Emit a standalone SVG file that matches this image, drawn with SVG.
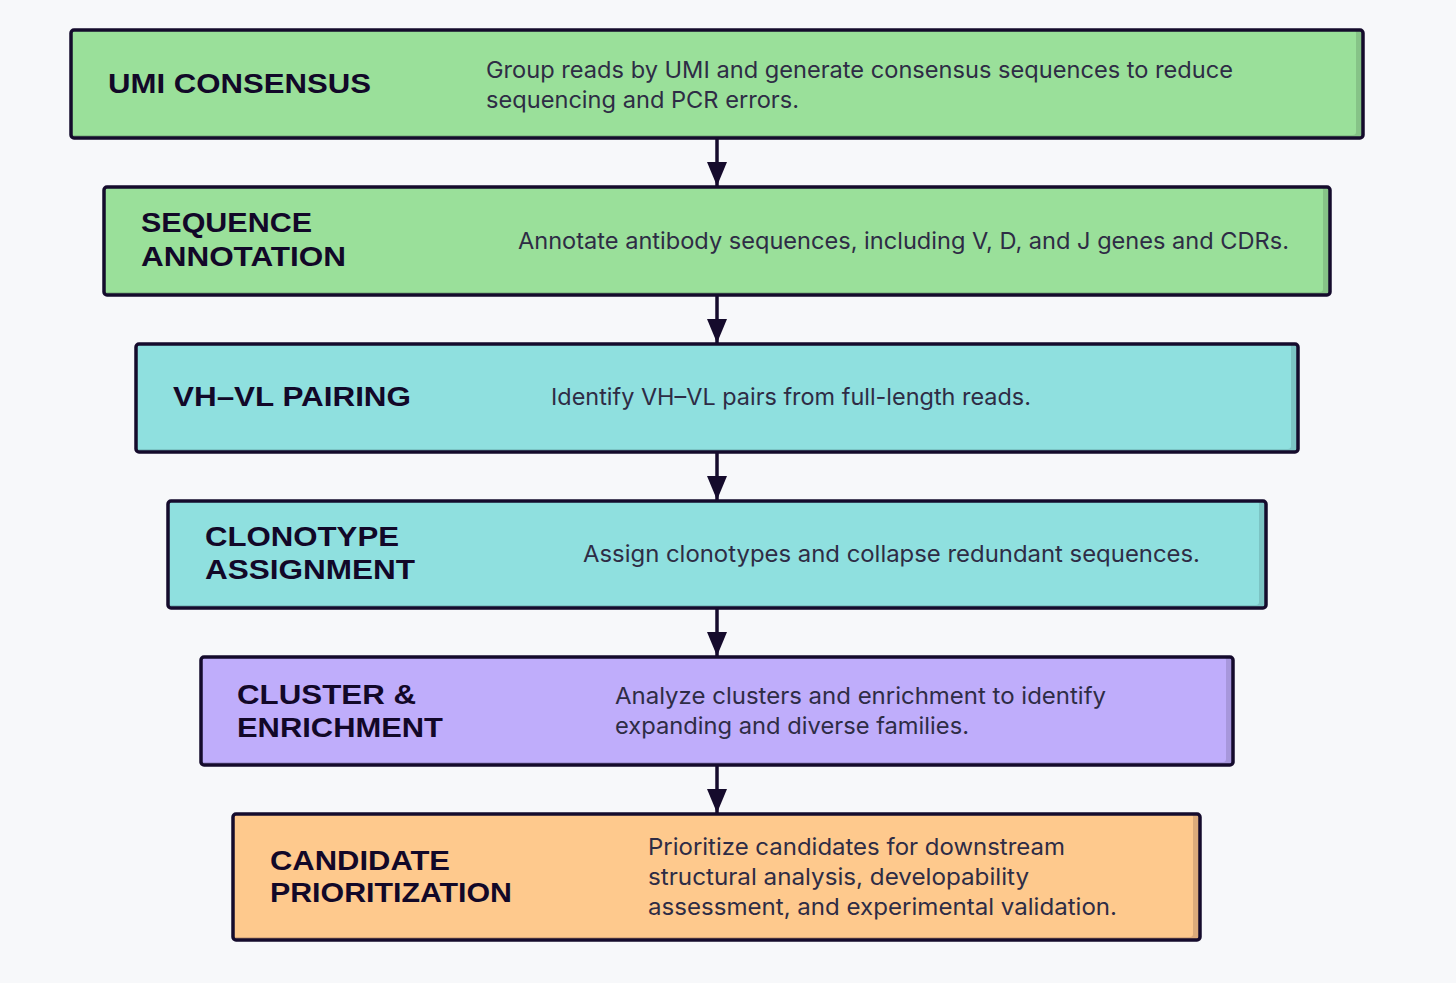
<svg xmlns="http://www.w3.org/2000/svg" width="1456" height="983" viewBox="0 0 1456 983">
<style>
.frame{fill:none;stroke:#150b2c;stroke-width:3.5}
.t{font-family:"Liberation Sans",Arial,sans-serif;font-weight:bold;font-size:27px;fill:#120828}
.d{font-family:Inter,"Liberation Sans",sans-serif;font-size:23px;fill:#2e2c45}
.g{fill:#9ae09a}.gs{fill:#86c387}
.c{fill:#8fe0df}.cs{fill:#7cc4c4}
.p{fill:#bfadfb}.ps{fill:#a797dc}
.o{fill:#fec98d}.os{fill:#dcab7b}
.conn{stroke:#150b2c;stroke-width:3.5;fill:none}
</style>
<defs>
<marker id="ah" markerUnits="userSpaceOnUse" markerWidth="26" markerHeight="20" refX="24" refY="10" orient="auto" viewBox="0 0 26 20">
<path d="M0,0 L24,10 L0,20 Z" fill="#150b2c"/>
</marker>
</defs>
<rect width="1456" height="983" fill="#f7f8fa"/>
<g id="connectors">
<line class="conn" x1="717" y1="138" x2="717" y2="186" marker-end="url(#ah)"/>
<line class="conn" x1="717" y1="295" x2="717" y2="343" marker-end="url(#ah)"/>
<line class="conn" x1="717" y1="452" x2="717" y2="500" marker-end="url(#ah)"/>
<line class="conn" x1="717" y1="608" x2="717" y2="656" marker-end="url(#ah)"/>
<line class="conn" x1="717" y1="765" x2="717" y2="813" marker-end="url(#ah)"/>
</g>
<g id="umi">
<rect class="gs" x="71" y="30" width="1292" height="108" rx="3"/>
<rect class="g" x="71" y="30" width="1285" height="105" rx="3"/>
<rect class="frame" x="71" y="30" width="1292" height="108" rx="3"/>
<text class="t" x="108" y="93" textLength="263" lengthAdjust="spacingAndGlyphs">UMI CONSENSUS</text>
<text class="d" x="486" y="78" textLength="747" lengthAdjust="spacingAndGlyphs">Group reads by UMI and generate consensus sequences to reduce</text>
<text class="d" x="486" y="108" textLength="313" lengthAdjust="spacingAndGlyphs">sequencing and PCR errors.</text>
</g>
<g id="annotation">
<rect class="gs" x="104" y="187" width="1226" height="108" rx="3"/>
<rect class="g" x="104" y="187" width="1219" height="105" rx="3"/>
<rect class="frame" x="104" y="187" width="1226" height="108" rx="3"/>
<text class="t" x="141" y="232" textLength="171" lengthAdjust="spacingAndGlyphs">SEQUENCE</text>
<text class="t" x="141" y="266" textLength="205" lengthAdjust="spacingAndGlyphs">ANNOTATION</text>
<text class="d" x="518" y="249" textLength="771" lengthAdjust="spacingAndGlyphs">Annotate antibody sequences, including V, D, and J genes and CDRs.</text>
</g>
<g id="pairing">
<rect class="cs" x="136" y="344" width="1162" height="108" rx="3"/>
<rect class="c" x="136" y="344" width="1155" height="105" rx="3"/>
<rect class="frame" x="136" y="344" width="1162" height="108" rx="3"/>
<text class="t" x="173" y="406" textLength="238" lengthAdjust="spacingAndGlyphs">VH–VL PAIRING</text>
<text class="d" x="551" y="405" textLength="480" lengthAdjust="spacingAndGlyphs">Identify VH–VL pairs from full-length reads.</text>
</g>
<g id="clonotype">
<rect class="cs" x="168" y="501" width="1098" height="107" rx="3"/>
<rect class="c" x="168" y="501" width="1091" height="104" rx="3"/>
<rect class="frame" x="168" y="501" width="1098" height="107" rx="3"/>
<text class="t" x="205" y="546" textLength="194" lengthAdjust="spacingAndGlyphs">CLONOTYPE</text>
<text class="t" x="205" y="579" textLength="210" lengthAdjust="spacingAndGlyphs">ASSIGNMENT</text>
<text class="d" x="583" y="562" textLength="617" lengthAdjust="spacingAndGlyphs">Assign clonotypes and collapse redundant sequences.</text>
</g>
<g id="cluster">
<rect class="ps" x="201" y="657" width="1032" height="108" rx="3"/>
<rect class="p" x="201" y="657" width="1025" height="105" rx="3"/>
<rect class="frame" x="201" y="657" width="1032" height="108" rx="3"/>
<text class="t" x="237" y="704" textLength="179" lengthAdjust="spacingAndGlyphs">CLUSTER &amp;</text>
<text class="t" x="237" y="737" textLength="206" lengthAdjust="spacingAndGlyphs">ENRICHMENT</text>
<text class="d" x="615" y="704" textLength="491" lengthAdjust="spacingAndGlyphs">Analyze clusters and enrichment to identify</text>
<text class="d" x="615" y="734" textLength="354" lengthAdjust="spacingAndGlyphs">expanding and diverse families.</text>
</g>
<g id="candidate">
<rect class="os" x="233" y="814" width="967" height="126" rx="3"/>
<rect class="o" x="233" y="814" width="960" height="123" rx="3"/>
<rect class="frame" x="233" y="814" width="967" height="126" rx="3"/>
<text class="t" x="270" y="870" textLength="180" lengthAdjust="spacingAndGlyphs">CANDIDATE</text>
<text class="t" x="270" y="902" textLength="242" lengthAdjust="spacingAndGlyphs">PRIORITIZATION</text>
<text class="d" x="648" y="855" textLength="417" lengthAdjust="spacingAndGlyphs">Prioritize candidates for downstream</text>
<text class="d" x="648" y="885" textLength="381" lengthAdjust="spacingAndGlyphs">structural analysis, developability</text>
<text class="d" x="648" y="915" textLength="469" lengthAdjust="spacingAndGlyphs">assessment, and experimental validation.</text>
</g>
</svg>
